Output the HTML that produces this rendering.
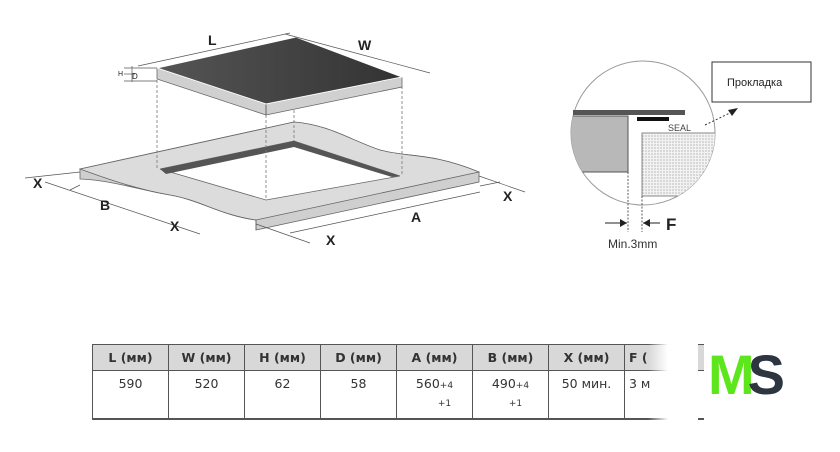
<!DOCTYPE html>
<html><head><style>
body{margin:0;width:840px;height:452px;background:#fff;overflow:hidden;font-family:"Liberation Sans",sans-serif}
svg{position:absolute;left:0;top:0}
table{position:absolute;left:92px;top:344px;border-collapse:collapse;font-family:"DejaVu Sans","Liberation Sans",sans-serif;font-size:12.5px;color:#333}
td{border:1px solid #555;width:75px;text-align:center;padding:0}
tr.h td{background:#d8d8d8;height:25px;font-weight:bold;color:#333}
tr.b td{height:42px;vertical-align:top;padding-top:5px;background:#fff;border-bottom:2px solid #555}
</style></head><body>
<svg width="840" height="452" viewBox="0 0 840 452">
<defs><linearGradient id="g" x1="0" y1="0" x2="1" y2="0"><stop offset="0" stop-color="#555"/><stop offset="1" stop-color="#333"/></linearGradient>
<pattern id="dots" width="3" height="3" patternUnits="userSpaceOnUse"><rect width="3" height="3" fill="#f2f2f2"/><circle cx="1" cy="1" r=".6" fill="#999"/></pattern></defs>
<path d="M80,169 L294,122 C330,125 350,140 380,150 C410,158 430,152 479,172 L479,182 L256,230 L256,220 C220,215 200,200 170,195 C140,190 110,180 80,179 Z" fill="#cfcfcf" stroke="#666" stroke-width="0.8"/>
<path d="M80,169 L294,122 C330,125 350,140 380,150 C410,158 430,152 479,172 L256,220 C220,215 200,200 170,195 C140,190 110,180 80,169 Z" fill="#dcdcdc" stroke="#666" stroke-width="0.8"/>
<polygon points="160,169 294,141 400,176 266,200" fill="#fff" stroke="#666" stroke-width="0.8"/>
<polygon points="160,169 294,141 294,147 166,174" fill="#555"/>
<polygon points="294,141 400,176 392,177 294,147" fill="#555"/>
<line x1="256" y1="220" x2="256" y2="230" stroke="#666"/>
<g stroke="#777" stroke-dasharray="3,2" stroke-width="0.8"><line x1="157" y1="80" x2="157" y2="168"/><line x1="266" y1="115" x2="266" y2="200"/><line x1="294" y1="105" x2="294" y2="141"/><line x1="402" y1="86" x2="402" y2="176"/></g>
<polygon points="157,68 266,104 402,77 402,87 266,115 157,79" fill="#d0d0d0" stroke="#666" stroke-width="0.8"/>
<line x1="266" y1="104" x2="266" y2="115" stroke="#666"/>
<polygon points="157,68 296,37 402,77 266,104" fill="url(#g)" stroke="#fff" stroke-width="1"/>
<g stroke="#555" stroke-width="0.7" fill="none">
<line x1="138" y1="66" x2="290" y2="33"/><line x1="285" y1="34" x2="430" y2="73"/>
<line x1="124" y1="68" x2="157" y2="68"/><line x1="124" y1="81" x2="157" y2="81"/><line x1="132" y1="66" x2="132" y2="82"/><line x1="124" y1="74" x2="135" y2="74"/>
<line x1="25" y1="178" x2="80" y2="172"/><line x1="45" y1="182" x2="200" y2="234"/><line x1="70" y1="190" x2="80" y2="185"/>
<line x1="256" y1="224" x2="310" y2="243"/><line x1="290" y1="233" x2="480" y2="192"/><line x1="479" y1="176" x2="525" y2="192"/><line x1="480" y1="186" x2="500" y2="182"/>
</g>
<g font-weight="bold" font-size="14" fill="#222">
<text x="208" y="45">L</text><text x="358" y="50">W</text>
<text x="33" y="188">X</text><text x="100" y="210">B</text><text x="170" y="231">X</text><text x="326" y="245">X</text><text x="411" y="222">A</text><text x="503" y="201">X</text>
</g>
<text x="118" y="76" font-size="7" fill="#222">H</text><text x="132" y="79" font-size="8" fill="#222">D</text>
<circle cx="643" cy="133" r="72" fill="#fff" stroke="#999"/>
<clipPath id="c"><circle cx="643" cy="133" r="72"/></clipPath>
<g clip-path="url(#c)">
<rect x="560" y="116" width="68" height="56" fill="#b8b8b8" stroke="#555"/>
<rect x="642" y="133" width="80" height="63" fill="url(#dots)" stroke="#888"/>
</g>
<rect x="573" y="110" width="112" height="5" fill="#555"/>
<rect x="637" y="117" width="32" height="4" fill="#111"/>
<text x="668" y="131" font-size="9" fill="#444">SEAL</text>
<line x1="705" y1="125" x2="732" y2="112" stroke="#333" stroke-dasharray="2,2"/>
<polygon points="738,108 728,110 732,116" fill="#222"/>
<rect x="712" y="62" width="99" height="40" fill="#fff" stroke="#333"/>
<text x="727" y="86" font-size="11" fill="#222">Прокладка</text>
<g stroke="#333" stroke-dasharray="2,1.5" stroke-width="0.8"><line x1="628" y1="172" x2="628" y2="232"/><line x1="642" y1="196" x2="642" y2="232"/></g>
<line x1="605" y1="223" x2="627" y2="223" stroke="#222"/><polygon points="627,223 620,219 620,227" fill="#222"/>
<line x1="643" y1="223" x2="660" y2="223" stroke="#222"/><polygon points="643,223 650,219 650,227" fill="#222"/>
<text x="666" y="230" font-weight="bold" font-size="17" fill="#222">F</text>
<text x="608" y="248" font-size="12" fill="#333">Min.3mm</text>
</svg>
<table>
<tr class="h"><td>L (мм)</td><td>W (мм)</td><td>H (мм)</td><td>D (мм)</td><td>A (мм)</td><td>B (мм)</td><td>X (мм)</td><td style="border-right:none;text-align:left;padding-left:4px">F (</td></tr>
<tr class="b"><td>590</td><td>520</td><td>62</td><td>58</td><td>560<small style="font-size:9px">+4</small><br><small style="font-size:9px;line-height:26px;padding-left:20px">+1</small></td><td>490<small style="font-size:9px">+4</small><br><small style="font-size:9px;line-height:26px;padding-left:10px">+1</small></td><td>50 мин.</td><td style="border-right:none;text-align:left;padding-left:4px">3 м</td></tr>
</table>
<div style="position:absolute;left:648px;top:340px;width:50px;height:84px;background:linear-gradient(90deg,rgba(255,255,255,0),#fff 40%)"></div>
<div style="position:absolute;left:708px;top:342px;font:bold 56px 'Liberation Sans',sans-serif;letter-spacing:-7px"><span style="color:#5ee61c">M</span><span style="color:#2d3540">S</span></div>
</body></html>
